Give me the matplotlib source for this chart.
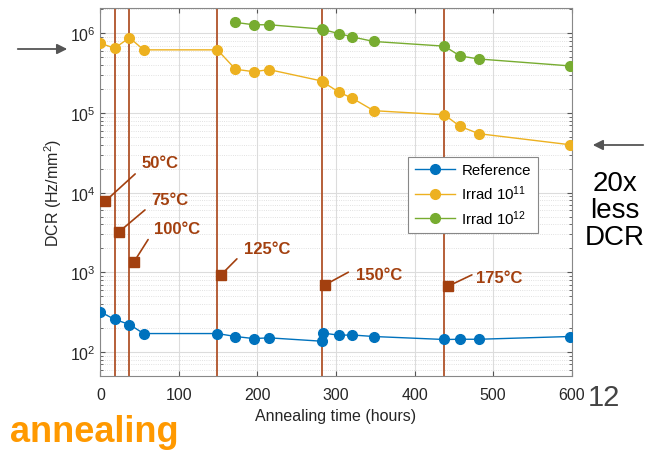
import matplotlib
matplotlib.use("Agg")
from matplotlib import pyplot as plt

plt.rcParams["font.family"] = ["Liberation Sans", "DejaVu Sans"]
plt.rcParams["mathtext.fontset"] = "custom"
plt.rcParams["mathtext.rm"] = "Liberation Sans"
plt.rcParams["mathtext.it"] = "Liberation Sans:italic"
plt.rcParams["mathtext.bf"] = "Liberation Sans:bold"

# Datos
t_ref = [0, 18, 37, 55, 149, 172, 195, 215, 282, 284, 304, 321, 348, 438, 458, 482, 598]
dcr_ref = [319, 258, 222, 171, 171, 157, 148, 151, 137, 173, 163, 164, 157, 144, 145, 145, 157]

t_11 = [0, 18, 37, 55, 149, 172, 195, 215, 282, 284, 304, 321, 348, 438, 458, 482, 598]
dcr_11 = [7.5e5, 6.5e5, 8.8e5, 6.2e5, 6.2e5, 3.54e5, 3.3e5, 3.5e5, 2.52e5, 2.43e5,
          1.82e5, 1.53e5, 1.07e5, 9.5e4, 6.8e4, 5.5e4, 4.0e4]

t_12 = [172, 195, 215, 282, 284, 304, 321, 348, 438, 458, 482, 598]
dcr_12 = [1.37e6, 1.28e6, 1.28e6, 1.13e6, 1.11e6, 9.9e5, 9.0e5, 7.9e5, 6.9e5,
          5.2e5, 4.76e5, 3.9e5]

# cambios de temperatura
t_cambio = [18, 37, 149, 282, 438]
temps = ["50°C", "75°C", "100°C", "125°C", "150°C", "175°C"]
temp_x = [6, 24, 43, 154, 286, 443]
temp_y = [7.8e3, 3.25e3, 1.37e3, 940, 698, 673]
# desplazamientos (puntos) del texto y del final de la flecha
txt_off = [(26, 28), (23, 23), (14, 23.5), (16, 18.5), (22, 7.4), (20, 6.5)]
lin_off = [(21.6, 19.7), (18.5, 15.6), (10, 15.8), (11.2, 11.3), (16.8, 9.1), (17, 8.1)]

marron = "#b0532a"
marron_txt = "#a3400f"

fig = plt.figure(figsize=(6.48, 4.56), dpi=100)
ax = fig.add_axes([0.155, 0.173, 0.727, 0.807])

for xc in t_cambio:
    ax.axvline(xc, color=marron, lw=1.3, zorder=2)

ax.plot(t_ref, dcr_ref, "-o", color="#0072BD", ms=7, lw=1, label="Reference", zorder=3)
ax.plot(t_11, dcr_11, "-o", color="#EDB120", ms=7, lw=1, label="Irrad 10$^{11}$", zorder=3)
ax.plot(t_12, dcr_12, "-o", color="#77AC30", ms=7, lw=1, label="Irrad 10$^{12}$", zorder=3)

for lab, x, y, toff, loff in zip(temps, temp_x, temp_y, txt_off, lin_off):
    ax.plot(x, y, marker="s", color=marron_txt, ms=7, zorder=4)
    ax.annotate("", xy=(x, y), xytext=loff, textcoords="offset points",
                arrowprops=dict(arrowstyle="-", color=marron_txt, lw=1.2,
                                shrinkA=0, shrinkB=0), zorder=4)
    ax.annotate(lab, xy=(x, y), xytext=toff, textcoords="offset points",
                ha="left", va="center", fontsize=12, fontweight="bold",
                color=marron_txt, zorder=5)

ax.set_yscale("log")
ax.set_xlim(0, 600)
ax.set_ylim(50, 2.07e6)
ax.set_xticks([0, 100, 200, 300, 400, 500, 600])
ax.grid(True, which="major", color="#dcdcdc", lw=0.8, zorder=0)
ax.grid(True, which="minor", color="#d8d8d8", lw=0.6, ls=":", zorder=0)
ax.tick_params(which="both", direction="in", top=True, right=True, colors="#555555",
               labelcolor="#262626", labelsize=11.5)
ax.tick_params(axis="x", pad=8)
for s in ax.spines.values():
    s.set_color("#888888")

ax.set_xlabel("Annealing time (hours)", fontsize=11.5, color="#262626")
ax.set_ylabel("DCR (Hz/mm$^2$)", fontsize=11.5, color="#262626")

leg = ax.legend(loc="upper left", bbox_to_anchor=(0.637, 0.617), fontsize=10.8,
                fancybox=False, framealpha=1, edgecolor="#888888",
                handlelength=2.7, handletextpad=0.4, borderpad=0.45,
                labelspacing=0.4)
leg.get_frame().set_linewidth(0.8)

# textos fuera del gráfico
fig.text(10 / 648, 1 - 433 / 456, "annealing", fontsize=26, fontweight="bold",
         color="#ff9900", ha="left", va="center")
fig.text(615 / 648, 1 - 211 / 456, "20x\nless\nDCR", fontsize=20, ha="center",
         va="center", linespacing=1.05, color="black")
fig.text(604 / 648, 1 - 398 / 456, "12", fontsize=21, ha="center", va="center",
         color="#444444")
fig.patches.append(matplotlib.patches.FancyArrowPatch(
    (15 / 648, 1 - 50 / 456), (70 / 648, 1 - 50 / 456), transform=fig.transFigure,
    arrowstyle="-|>,head_length=6,head_width=3", color="#555555", lw=1.3))
fig.patches.append(matplotlib.patches.FancyArrowPatch(
    (646 / 648, 1 - 146 / 456), (590 / 648, 1 - 146 / 456), transform=fig.transFigure,
    arrowstyle="-|>,head_length=6,head_width=3", color="#555555", lw=1.3))

fig.savefig("out.png", dpi=100)
